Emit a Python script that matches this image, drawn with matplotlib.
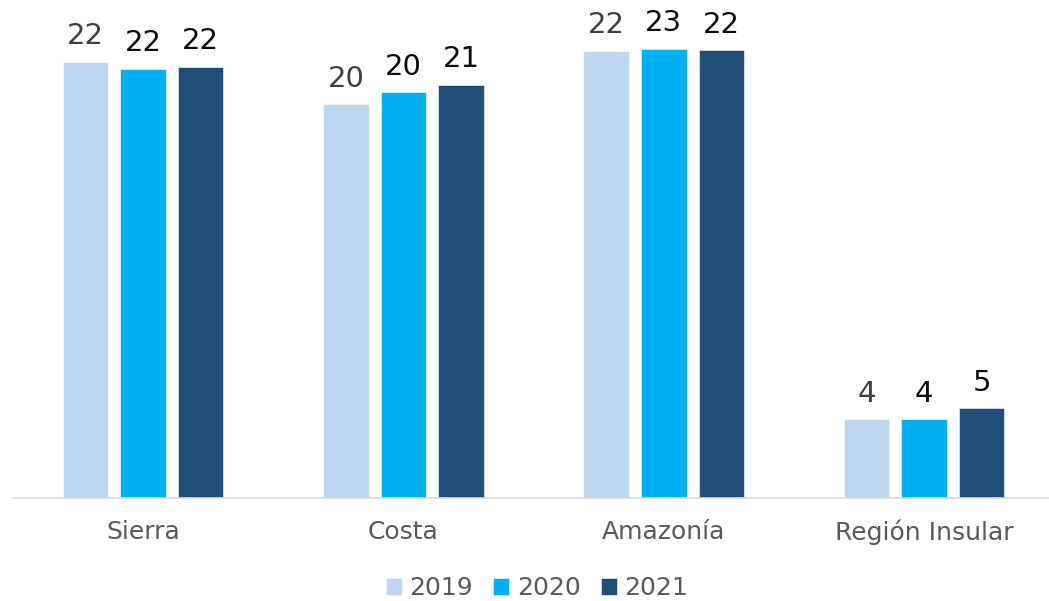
import numpy as np
import matplotlib
matplotlib.use("Agg")
import matplotlib.pyplot as plt

# Datos por región
regiones = ["Sierra", "Costa", "Amazonía", "Región Insular"]
anios = ["2019", "2020", "2021"]
v2019 = [21.9, 19.75, 22.45, 3.93]
v2020 = [21.55, 20.38, 22.55, 3.93]
v2021 = [21.65, 20.74, 22.49, 4.5]

colores = ["#BDD7EE", "#00B0F0", "#1F4E79"]
color_etiquetas = ["#404040", "#0D0D0D", "#0D0D0D"]

plt.rcParams["font.family"] = ["DejaVu Sans"]

fig = plt.figure(figsize=(10.49, 6.01), dpi=100)
ax = fig.add_axes([13 / 1049, (601 - 497.5) / 601, 1 - 13 / 1049, 497.5 / 601])

x = np.arange(len(regiones))
ancho = 0.175
paso = 0.221
series = [v2019, v2020, v2021]

for i, (vals, anio) in enumerate(zip(series, anios)):
    pos = x + (i - 1) * paso
    ax.bar(pos, vals, width=ancho, color=colores[i], label=anio,
           edgecolor="white", linewidth=0.4)
    for px, v in zip(pos, vals):
        # redondeo tipo Excel (mitad hacia arriba)
        ax.annotate(str(int(v + 0.5)), (px, v), xytext=(0, 12.5),
                    textcoords="offset points", ha="center", va="baseline",
                    fontsize=21, color=color_etiquetas[i])

ax.set_xlim(-0.5, (1049 - 143.2) / 260.3)
ax.set_ylim(0, 25)
ax.set_xticks(x)
ax.set_xticklabels(regiones, fontsize=18, color="#595959")
ax.tick_params(axis="x", length=0, pad=16)
ax.set_yticks([])
for s in ["top", "right", "left"]:
    ax.spines[s].set_visible(False)
ax.spines["bottom"].set_color("#D9D9D9")
ax.spines["bottom"].set_linewidth(1.2)
ax.patch.set_alpha(0)

fig.legend(loc="center", bbox_to_anchor=(537 / 1049, 1 - 588 / 601), ncol=3,
           frameon=False, fontsize=18, labelcolor="#595959",
           handlelength=0.65, handleheight=0.65, handletextpad=0.3,
           columnspacing=0.8)

fig.savefig("out.png", dpi=100)
